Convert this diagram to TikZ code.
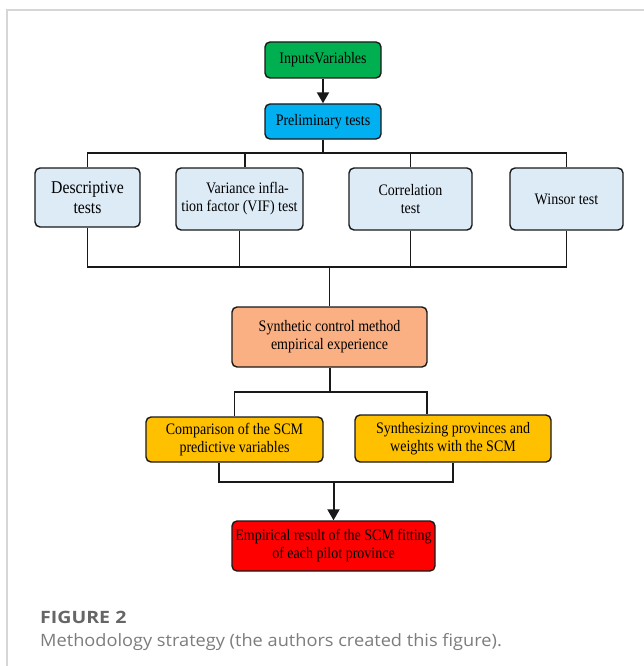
\documentclass[tikz,border=0pt]{standalone}
\usepackage{fontspec}
\setmainfont{Liberation Serif}
\newfontfamily\boxfont[FakeStretch=0.875]{Liberation Serif}
\newfontfamily\capfont[FakeStretch=1.07]{Open Sans}
\newfontfamily\titfont[FakeStretch=1.15]{Open Sans}
\usetikzlibrary{arrows.meta}
\definecolor{cgreen}{RGB}{0,176,80}
\definecolor{cblue}{RGB}{0,176,240}
\definecolor{clight}{RGB}{221,235,247}
\definecolor{csalmon}{RGB}{250,176,130}
\definecolor{camber}{RGB}{255,192,0}
\definecolor{cred}{RGB}{255,0,0}
\definecolor{cframe}{RGB}{214,214,214}
\definecolor{ctitle}{RGB}{102,102,102}
\definecolor{ccap}{RGB}{125,125,125}
\definecolor{cline}{RGB}{25,25,25}
\tikzset{
  box/.style={draw=cline, line width=1.4pt, rounded corners=5pt, inner sep=0pt,
    align=center, font=\boxfont\fontsize{16}{18}\selectfont},
  conn/.style={draw=cline, line width=1.3pt},
  thickconn/.style={draw=cline, line width=2pt},
  arrowconn/.style={draw=cline, line width=2pt, -{Triangle[length=11pt,width=12pt]}},
}
\begin{document}
\begin{tikzpicture}[x=1pt,y=-1pt]
\useasboundingbox (0,0) rectangle (644,666);
\fill[white] (0,0) rectangle (644,666);
\draw[cframe, line width=1.2pt] (7,666) -- (7,10) -- (644,10);

\node[box, fill=cgreen, minimum width=116pt, minimum height=36pt] (iv) at (323,60) {InputsVariables};
\node[box, fill=cblue, minimum width=116pt, minimum height=35pt] (pt) at (323,121.5) {Preliminary tests};

\node[box, fill=clight, minimum width=105pt, minimum height=59pt,
  font=\boxfont\fontsize{18}{20}\selectfont] (desc) at (87.5,197.5) {Descriptive\\tests};
\node[box, fill=clight, minimum width=127pt, minimum height=62pt] (vif) at (239.5,199)
  {\hspace*{16pt}Variance infla-\\tion factor (VIF) test};
\node[box, fill=clight, minimum width=123pt, minimum height=62pt] (corr) at (410.5,199) {Correlation\\test};
\node[box, fill=clight, minimum width=113pt, minimum height=62pt] (wins) at (566.5,199) {Winsor test};

\node[box, fill=csalmon, minimum width=195pt, minimum height=60pt] (scm) at (329.5,337)
  {Synthetic control method\\empirical experience};

\node[box, fill=camber, minimum width=177pt, minimum height=45pt] (comp) at (234.5,439.5)
  {Comparison of the SCM\\predictive variables};
\node[box, fill=camber, minimum width=196pt, minimum height=47pt] (synth) at (453,438.5)
  {Synthesizing provinces and\\weights with the SCM};

\node[box, fill=cred, minimum width=203pt, minimum height=50pt] (emp) at (333.5,546)
  {Empirical result of the SCM fitting\\of each pilot province};

\coordinate (j1) at (323,153);
\coordinate (j2) at (329.5,267);
\coordinate (j3) at (329.5,392);
\coordinate (j4) at (333.5,482);

\draw[arrowconn] (iv) -- (pt);
\draw[conn] (pt) -- (j1);
\draw[conn] (desc.north) |- (j1) -| (wins.north);
\draw[conn] ([xshift=5.5pt]vif.north) -- ([xshift=5.5pt]vif.north |- j1);
\draw[conn] (corr.north) -- (corr.north |- j1);

\draw[conn] (desc.south) |- (j2) -| (wins.south);
\draw[conn] (vif.south) -- (vif.south |- j2);
\draw[conn] (corr.south) -- (corr.south |- j2);
\draw[conn] (j2) -- (scm.north);

\draw[thickconn] (scm.south) -- (j3);
\draw[conn] (comp.north) |- (j3) -| ([xshift=-26pt]synth.north);

\draw[conn] ([xshift=-15.5pt]comp.south) |- (j4) -| (synth.south);
\draw[arrowconn] (j4) -- (emp.north);

\node[anchor=base west, inner sep=0pt, text=ctitle, font=\titfont\bfseries\fontsize{17}{19}\selectfont] (fig) at (40,623) {FIGURE 2};
\node[anchor=base west, inner sep=0pt, text=ccap, font=\capfont\fontsize{17}{19}\selectfont] (cap) at (40,646) {Methodology strategy (the authors created this figure).};
\end{tikzpicture}
\end{document}
